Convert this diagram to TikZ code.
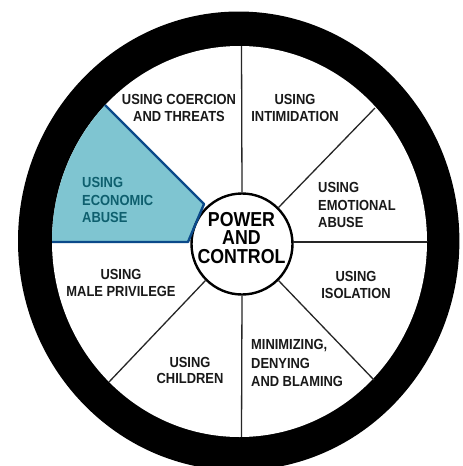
\documentclass[tikz,border=0pt]{standalone}
\usepackage{fontspec}
\setmainfont{Liberation Sans}
\definecolor{teal1}{HTML}{7FC5D1}
\definecolor{navy1}{HTML}{0B4A8A}
\definecolor{tealtxt}{HTML}{0E5F6E}
\tikzset{
  spoke/.style={draw=black!85,line width=1.3pt},
  bluespoke/.style={draw=navy1,line width=2.4pt,line join=round},
  lab/.style={align=center,font=\fontsize{14.6}{16.6}\selectfont\bfseries,inner sep=0pt,text=black!90,xscale=0.885},
  leftlab/.style={lab,align=left,anchor=west,font=\fontsize{14.6}{17.4}\selectfont\bfseries},
  hubtxt/.style={align=center,font=\fontsize{20.2}{18.8}\selectfont\bfseries,inner sep=0pt,xscale=0.88}
}
\begin{document}
\begin{tikzpicture}[x=1pt,y=-1pt]
\path[use as bounding box,clip] (0,0) rectangle (463,466);
\fill[white] (0,0) rectangle (463,466);
\fill[black] (238.7,241) ellipse [x radius=220.7,y radius=229.5];
\fill[white] (239.5,241.5) ellipse [x radius=187.5,y radius=195.5];
\begin{scope}
\clip (239.5,241.5) ellipse [x radius=187.5,y radius=195.5];
\fill[teal1] (100,100) -- (204,204) -- (188,242) -- (40,242) -- (40,100) -- cycle;
\end{scope}
\node[circle,draw=black,line width=2.4pt,fill=white,minimum size=101pt,inner sep=0pt] (hub) at (242,244) {};
\node[hubtxt] (hubt) at (241.5,238) {POWER\\AND\\CONTROL};
\coordinate (n) at (241.5,46);
\coordinate (s) at (241.5,437);
\coordinate (e) at (427,242);
\coordinate (ne) at (375,108);
\coordinate (se) at (374,380);
\coordinate (sw) at (109,382);
\coordinate (nw) at (105,105);
\coordinate (w) at (52,242);
\coordinate (a) at (204,204);
\coordinate (b) at (188,242);
\draw[spoke] (hub.north) -- (n);
\draw[spoke] (hub.south) -- (s);
\draw[spoke] (293,242) -- (e);
\draw[spoke] (hub.45) -- (ne);
\draw[spoke] (hub.-45) -- (se);
\draw[spoke] (hub.-135) -- (sw);
\draw[bluespoke] (nw) -- (a) -- (b) -- (w);
\node[lab] (t1) at (179,108) {USING COERCION\\AND THREATS};
\node[lab] (t2) at (295,108) {USING\\INTIMIDATION};
\node[leftlab] (t3) at (318,205) {USING\\EMOTIONAL\\ABUSE};
\node[lab] (t4) at (356,285) {USING\\ISOLATION};
\node[leftlab,font=\fontsize{14.6}{18.6}\selectfont\bfseries] (t5) at (251,363) {MINIMIZING,\\DENYING\\AND BLAMING};
\node[lab] (t6) at (190,370.5) {USING\\CHILDREN};
\node[lab] (t7) at (121,283) {USING\\MALE PRIVILEGE};
\node[leftlab,text=tealtxt] (t8) at (82,200) {USING\\ECONOMIC\\ABUSE};
\end{tikzpicture}
\end{document}
